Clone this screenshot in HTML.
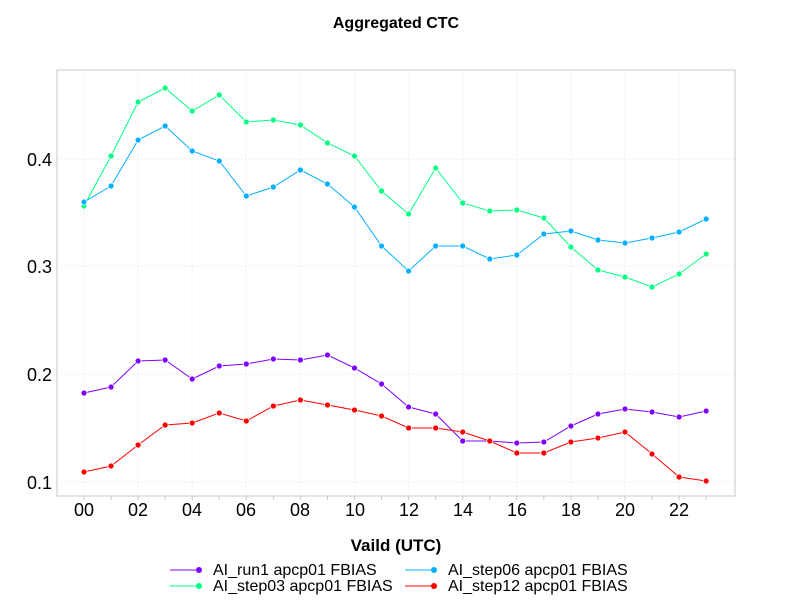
<!DOCTYPE html>
<html><head><meta charset="utf-8"><style>
html,body{margin:0;padding:0;background:#fff;}
svg{display:block;font-family:"Liberation Sans",sans-serif;}
</style></head><body>
<svg width="792" height="612" viewBox="0 0 792 612" xmlns="http://www.w3.org/2000/svg">
<rect width="792" height="612" fill="#fff"/>
<text x="396" y="28" text-anchor="middle" font-size="16" font-weight="bold">Aggregated CTC</text>
<rect x="57" y="70" width="678" height="426" fill="none" stroke="#c8c8c8" stroke-width="1"/>
<g stroke="#dcdcdc" stroke-dasharray="1,3" stroke-width="1">
<line x1="84" y1="70" x2="84" y2="496"/><line x1="138" y1="70" x2="138" y2="496"/><line x1="192" y1="70" x2="192" y2="496"/><line x1="246" y1="70" x2="246" y2="496"/><line x1="300" y1="70" x2="300" y2="496"/><line x1="355" y1="70" x2="355" y2="496"/><line x1="409" y1="70" x2="409" y2="496"/><line x1="463" y1="70" x2="463" y2="496"/><line x1="517" y1="70" x2="517" y2="496"/><line x1="571" y1="70" x2="571" y2="496"/><line x1="625" y1="70" x2="625" y2="496"/><line x1="679" y1="70" x2="679" y2="496"/>
<line x1="57" y1="159" x2="735" y2="159"/><line x1="57" y1="266" x2="735" y2="266"/><line x1="57" y1="374" x2="735" y2="374"/><line x1="57" y1="482" x2="735" y2="482"/>
</g>
<g id="ticks" stroke="#c8c8c8" stroke-width="1"></g>
<g font-size="18" fill="#000" text-anchor="end">
<text x="52" y="166">0.4</text><text x="52" y="273">0.3</text><text x="52" y="381">0.2</text><text x="52" y="489">0.1</text>
</g>
<g font-size="18" fill="#000" text-anchor="middle">
<text x="84" y="516">00</text><text x="138" y="516">02</text><text x="192" y="516">04</text><text x="246" y="516">06</text><text x="300" y="516">08</text><text x="355" y="516">10</text><text x="409" y="516">12</text><text x="463" y="516">14</text><text x="517" y="516">16</text><text x="571" y="516">18</text><text x="625" y="516">20</text><text x="679" y="516">22</text>
</g>
<text x="396" y="551" text-anchor="middle" font-size="17" font-weight="bold">Vaild (UTC)</text>
<g id="series" stroke-width="1" fill="none"></g>
<g font-size="16" fill="#000">
<line x1="170" y1="570" x2="199" y2="570" stroke="#8000ff"/><circle cx="199" cy="570" r="3" fill="#8000ff"/><text x="213" y="575">AI_run1 apcp01 FBIAS</text>
<line x1="170" y1="586" x2="199" y2="586" stroke="#00ff80"/><circle cx="199" cy="586" r="3" fill="#00ff80"/><text x="213" y="591">AI_step03 apcp01 FBIAS</text>
<line x1="405" y1="570" x2="434" y2="570" stroke="#00b0ff"/><circle cx="434" cy="570" r="3" fill="#00b0ff"/><text x="448" y="575">AI_step06 apcp01 FBIAS</text>
<line x1="405" y1="586" x2="434" y2="586" stroke="#ff0000"/><circle cx="434" cy="586" r="3" fill="#ff0000"/><text x="448" y="591">AI_step12 apcp01 FBIAS</text>
</g>
<script>
var S=[["#8000ff",[393,387,361,360,379,366,364,359,360,355,368,384,407,414,441,441,443,442,426,414,409,412,417,411]],
["#00ff80",[206,156,102,88,111,95,122,120,125,143,156,191,214,168,203,211,210,218,247,270,277,287,274,254]],
["#00b0ff",[202,186,140,126,151,161,196,187,170,184,207,246,271,246,246,259,255,234,231,240,243,238,232,219]],
["#ff0000",[472,466,445,425,423,413,421,406,400,405,410,416,428,428,432,441,453,453,442,438,432,454,477,481]]];
var g=document.getElementById("series"),ns="http://www.w3.org/2000/svg",t=document.getElementById("ticks");
for(var i=0;i<24;i++){var l=document.createElementNS(ns,"line");var x=84+i*27.05;l.setAttribute("x1",x);l.setAttribute("x2",x);l.setAttribute("y1",496);l.setAttribute("y2",500);t.appendChild(l);}
S.forEach(function(s){var p=s[1].map(function(y,i){return (84+i*27.05).toFixed(1)+","+y;}).join(" ");
var pl=document.createElementNS(ns,"polyline");pl.setAttribute("points",p);pl.setAttribute("stroke",s[0]);g.appendChild(pl);
s[1].forEach(function(y,i){var c=document.createElementNS(ns,"circle");c.setAttribute("cx",84+i*27.05);c.setAttribute("cy",y);c.setAttribute("r",3);c.setAttribute("fill",s[0]);c.setAttribute("stroke","#fff");c.setAttribute("stroke-width","0.8");g.appendChild(c);});});
</script>
</svg>
</body></html>
